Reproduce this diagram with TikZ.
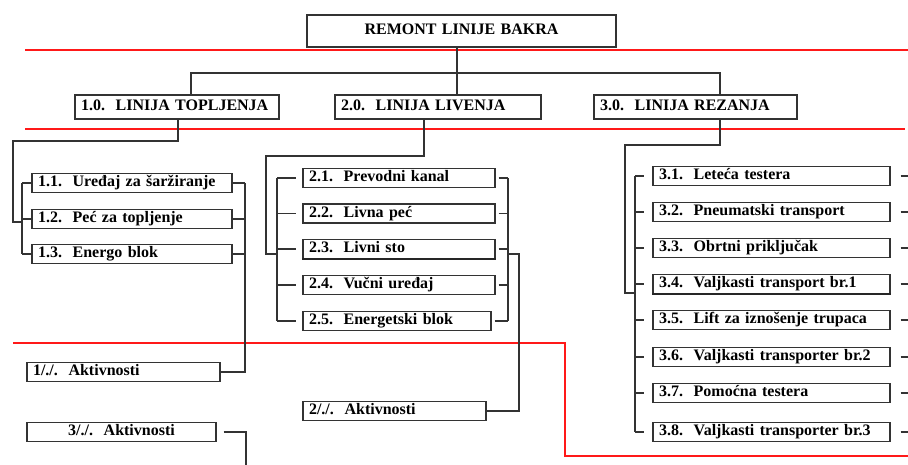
\documentclass[tikz,border=0pt]{standalone}
\usepackage{fontspec}
\setmainfont{Liberation Serif}
\usetikzlibrary{calc}

\tikzset{
  okvir/.style={draw=black!80, line width=1.3pt, fill=white,
    font=\bfseries\fontsize{16}{16}\selectfont, inner xsep=6pt, inner ysep=0pt,
    text height=11pt, text depth=3.5pt, minimum height=19pt, align=left, text width=#1},
  veza/.style={black!80, line width=1.5pt},
  granica/.style={red!90!white, line width=1.3pt},
}

\begin{document}
\begin{tikzpicture}[x=1pt, y=-1pt]
        \useasboundingbox (0,0) rectangle (908,465);
        % Granice nivoa
        \draw[granica] (25,50) -- (908,50);
        \draw[granica] (25,129) -- (905,129);
        \draw[granica] (13,343) -- (565,343) -- (565,456) -- (908,456);
        % Vrh
        \node[okvir=297, align=center, minimum height=32pt] (remont) at (461.5,31) {REMONT LINIJE BAKRA};
        % Linije
        \node[okvir=192, minimum height=24pt] (lin1) at (177,107) {1.0.~~LINIJA TOPLJENJA};
        \node[okvir=194, minimum height=24pt] (lin2) at (438,107) {2.0.~~LINIJA LIVENJA};
        \node[okvir=191, minimum height=24pt] (lin3) at (695.5,107) {3.0.~~LINIJA REZANJA};
        \coordinate (s0) at (457,73);
        \coordinate (s1) at (191,73);
        \coordinate (s3) at (720,73);
        \draw[veza] (remont.south -| s0) -- (s0 |- lin2.north);
        \draw[veza] (lin1.north -| s1) -- (s1) -- (s3) -- (lin3.north -| s3);
        % Linija topljenja
        \node[okvir=188] (u11) at (132,183) {1.1.~~Uređaj za šaržiranje};
        \node[okvir=188] (u12) at (132,219) {1.2.~~Peć za topljenje};
        \node[okvir=188] (u13) at (132,254) {1.3.~~Energo blok};
        \node[okvir=181] (akt1) at (123.5,372) {1/./.~~Aktivnosti};
        \node[okvir=177, align=center] (akt3) at (121.5,432) {3/./.~~Aktivnosti};
        \coordinate (k1) at (178,141);
        \coordinate (k1a) at (13,222);
        \coordinate (l1) at (22,0);
        \coordinate (d1) at (245,0);
        \coordinate (d3) at (246,465);
        \draw[veza] (lin1.south -| k1) -- (k1) -| (k1a) -- (k1a -| l1);
        \draw[veza] (u11.west -| l1) -- (u13.west -| l1);
        \draw[veza] (u11.east -| d1) |- (akt1.east);
        \foreach \n in {u11,u12,u13} {
          \draw[veza] (\n.west -| l1) -- (\n.west);
          \draw[veza] (\n.east) -- (\n.east -| d1);
        }
        \draw[veza, shorten <=7pt] (akt3.east) -| (d3);
        % Linija livenja
        \node[okvir=180] (u21) at (399,178) {2.1.~~Prevodni kanal};
        \node[okvir=180] (u22) at (399,213.5) {2.2.~~Livna peć};
        \node[okvir=180] (u23) at (399,249) {2.3.~~Livni sto};
        \node[okvir=180] (u24) at (399,285) {2.4.~~Vučni uređaj};
        \node[okvir=176] (u25) at (397,321) {2.5.~~Energetski blok};
        \node[okvir=171] (akt2) at (394.5,411) {2/./.~~Aktivnosti};
        \draw[line width=2.4pt, black!85] (u23.south west) -- (u23.south east);
        \coordinate (k2) at (424,156);
        \coordinate (k2a) at (266,254);
        \coordinate (l2) at (277,0);
        \coordinate (d2) at (508,0);
        \coordinate (e2) at (519,254);
        \draw[veza] (lin2.south -| k2) -- (k2) -| (k2a) -- (k2a -| l2);
        \draw[veza] (u21.west -| l2) -- (u25.west -| l2);
        \draw[veza] (u21.east -| d2) -- (u25.east -| d2);
        \foreach \n in {u21,u22,u23,u24,u25} {
          \draw[veza, shorten >=6pt] (\n.west -| l2) -- (\n.west);
          \draw[veza, shorten <=3pt] (\n.east) -- (\n.east -| d2);
        }
        \draw[veza] (e2 -| d2) -- (e2) |- (akt2.east);
        % Linija rezanja
        \node[okvir=225] (u31) at (771.5,176) {3.1.~~Leteća testera};
        \node[okvir=225] (u32) at (771.5,212) {3.2.~~Pneumatski transport};
        \node[okvir=225] (u33) at (771.5,248) {3.3.~~Obrtni priključak};
        \node[okvir=225] (u34) at (771.5,284) {3.4.~~Valjkasti transport br.1};
        \node[okvir=225] (u35) at (771.5,320) {3.5.~~Lift za iznošenje trupaca};
        \node[okvir=225] (u36) at (771.5,357) {3.6.~~Valjkasti transporter br.2};
        \node[okvir=225] (u37) at (771.5,393) {3.7.~~Pomoćna testera};
        \node[okvir=225] (u38) at (771.5,432) {3.8.~~Valjkasti transporter br.3};
        \draw[line width=2.4pt, black!85] (u34.south west) -- (u34.south east);
        \coordinate (k3) at (720,145);
        \coordinate (k3a) at (625,293);
        \coordinate (l3) at (635,0);
        \coordinate (d4) at (908,0);
        \draw[veza] (lin3.south -| k3) -- (k3) -| (k3a) -- (k3a -| l3);
        \draw[veza] (u31.west -| l3) -- (u38.west -| l3);
        \foreach \n in {u31,u32,u33,u34,u35,u36,u37,u38} {
          \draw[veza, shorten >=8pt] (\n.west -| l3) -- (\n.west);
          \draw[veza, shorten <=10pt] (\n.east) -- (\n.east -| d4);
        }
      \end{tikzpicture}
\end{document}
